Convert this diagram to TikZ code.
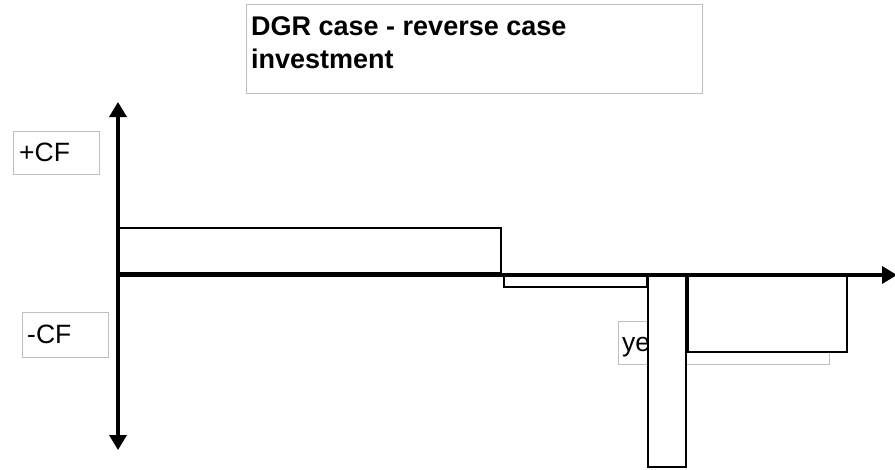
\documentclass[tikz,border=0pt]{standalone}
\usepackage{fontspec}
\setmainfont{Liberation Sans}
\usetikzlibrary{arrows.meta}
\begin{document}
\begin{tikzpicture}[x=1pt,y=-1pt,
  lblbox/.style={draw=black!25, line width=0.8pt, fill=white, inner sep=0pt, anchor=north west},
  lbltext/.style={inner sep=0pt, anchor=base west, font=\fontsize{26.5}{30}\selectfont},
  ttext/.style={inner sep=0pt, anchor=base west, font=\bfseries\fontsize{27}{32}\selectfont},
  bar/.style={draw=black, line width=2pt, fill=white},
  axis/.style={line width=3.5pt, -{Triangle[width=17pt,length=15pt]}}
]
\useasboundingbox (0,0) rectangle (895,469);
% title
\node[lblbox, minimum width=456pt, minimum height=89pt] (title) at (246,4) {};
\node[ttext] (t1) at (251,35) {DGR case - reverse case};
\node[ttext] (t2) at (251,68) {investment};
% CF labels
\node[lblbox, minimum width=86pt, minimum height=43pt] (pcfbox) at (13,131) {};
\node[lbltext] (pcf) at (19,161) {+CF};
\node[lblbox, minimum width=86pt, minimum height=45pt] (ncfbox) at (22,312) {};
\node[lbltext] (ncf) at (27,343) {-CF};
% years label (partly hidden)
\node[lblbox, minimum width=211pt, minimum height=43pt] (yrbox) at (618,321) {};
\node[lbltext] (yr) at (622,351) {years};
% bars
\draw[bar] (118,228) rectangle (501,273);
\draw[bar] (504,275) rectangle (647,287);
\draw[bar] (648,275) rectangle (686,467);
\draw[bar] (686,275) rectangle (847,352);
\draw[line width=3pt] (687,275) -- (687,352);
% axes
\coordinate (o) at (118,275);
\coordinate (xend) at (897,275);
\coordinate (ytop) at (118,102);
\coordinate (ybot) at (118,450);
\draw[axis] (o) -- (xend);
\draw[axis] (o) -- (ytop);
\draw[axis] (o) -- (ybot);
\end{tikzpicture}
\end{document}
